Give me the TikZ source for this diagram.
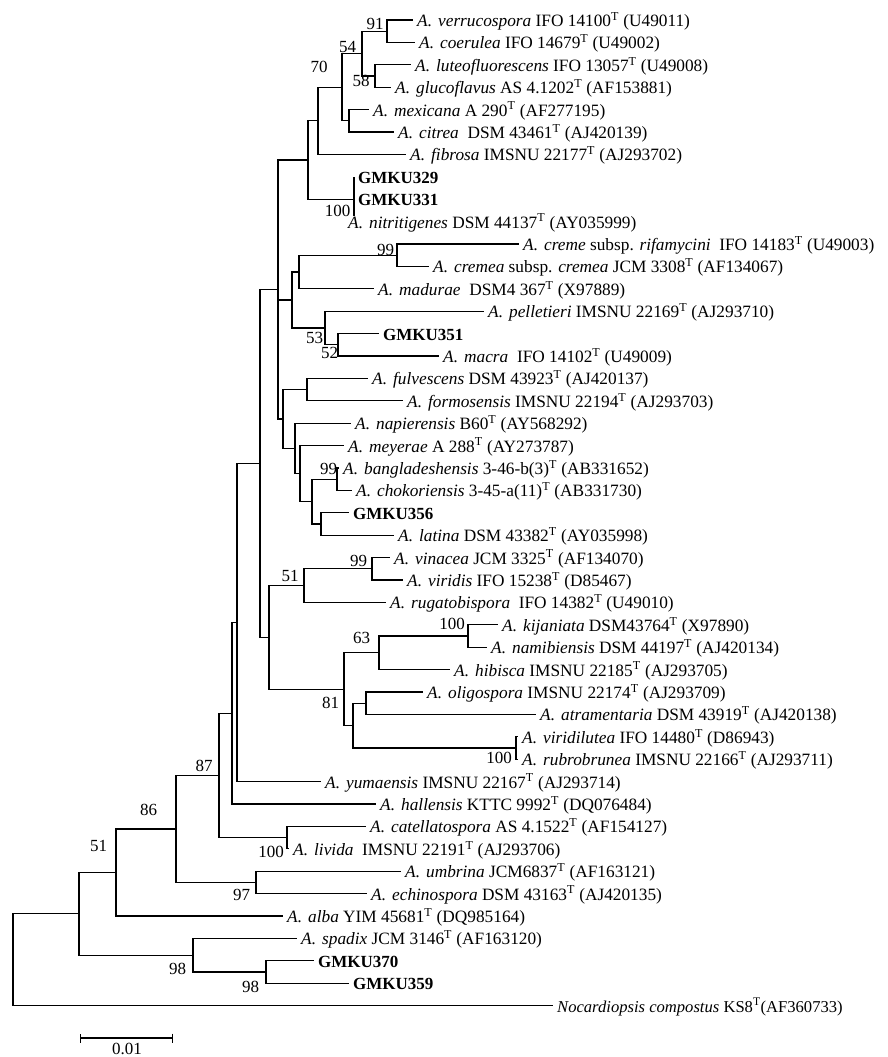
\documentclass[tikz,border=0pt]{standalone}
\usepackage{fontspec}
\setmainfont{Liberation Serif}
\usetikzlibrary{arrows.meta}
\newcommand{\Ty}{\textsuperscript{T}}
\newcommand{\Ab}{\textit{A.}\hspace{0.35em}}

\begin{document}
\begin{tikzpicture}[
        x=1pt, y=-1pt,
        branch/.style={
            line width=1.2pt,
            draw=black
        },
        taxon/.style={
            anchor=west,
            inner xsep=4pt,
            inner ysep=0pt,
            text height=14pt,
            text depth=1pt,
            font=\fontsize{17.3}{19}\selectfont
        },
        isolate/.style={
            taxon,
            font=\fontsize{17}{19}\selectfont\bfseries
        },
        boot/.style={
            inner sep=0pt,
            font=\fontsize{17}{19}\selectfont
        }
    ]
        \useasboundingbox (0,0) rectangle (888,1057);

        % Taxa
        \node[taxon] (verr) at (413, 20) {\Ab\textit{verrucospora} IFO 14100\Ty{} (U49011)};
        \node[taxon] (coer) at (415, 42.4) {\Ab\textit{coerulea} IFO 14679\Ty{} (U49002)};
        \node[taxon] (lute) at (411, 64.8) {\Ab\textit{luteofluorescens} IFO 13057\Ty{} (U49008)};
        \node[taxon] (gluc) at (391, 87.2) {\Ab\textit{glucoflavus} AS 4.1202\Ty{} (AF153881)};
        \node[taxon] (mexi) at (369, 109.6) {\Ab\textit{mexicana} A 290\Ty{} (AF277195)};
        \node[taxon] (citr) at (394, 132) {\Ab\textit{citrea}\ \ DSM 43461\Ty{} (AJ420139)};
        \node[taxon] (fibr) at (406, 154.4) {\Ab\textit{fibrosa} IMSNU 22177\Ty{} (AJ293702)};
        \node[isolate] (g329) at (354, 176.8) {GMKU329};
        \node[isolate] (g331) at (354, 199.2) {GMKU331};
        \node[taxon] (nitr) at (344, 221.6) {\Ab\textit{nitritigenes} DSM 44137\Ty{} (AY035999)};
        \node[taxon] (crem) at (519, 244) {\Ab\textit{creme} subsp. \textit{rifamycini}\ \ IFO 14183\Ty{} (U49003)};
        \node[taxon] (crma) at (429, 266.4) {\Ab\textit{cremea} subsp. \textit{cremea} JCM 3308\Ty{} (AF134067)};
        \node[taxon] (madu) at (374, 288.8) {\Ab\textit{madurae}\ \ DSM4 367\Ty{} (X97889)};
        \node[taxon] (pell) at (484, 311.2) {\Ab\textit{pelletieri} IMSNU 22169\Ty{} (AJ293710)};
        \node[isolate] (g351) at (379, 333.6) {GMKU351};
        \node[taxon] (macr) at (439, 356) {\Ab\textit{macra}\ \ IFO 14102\Ty{} (U49009)};
        \node[taxon] (fulv) at (368, 378.4) {\Ab\textit{fulvescens} DSM 43923\Ty{} (AJ420137)};
        \node[taxon] (form) at (403, 400.8) {\Ab\textit{formosensis} IMSNU 22194\Ty{} (AJ293703)};
        \node[taxon] (napi) at (351, 423.2) {\Ab\textit{napierensis} B60\Ty{} (AY568292)};
        \node[taxon] (meye) at (344, 445.6) {\Ab\textit{meyerae} A 288\Ty{} (AY273787)};
        \node[taxon] (bang) at (339, 468) {\Ab\textit{bangladeshensis} 3-46-b(3)\Ty{} (AB331652)};
        \node[taxon] (chok) at (352, 490.4) {\Ab\textit{chokoriensis} 3-45-a(11)\Ty{} (AB331730)};
        \node[isolate] (g356) at (349, 512.8) {GMKU356};
        \node[taxon] (lati) at (394, 535.2) {\Ab\textit{latina} DSM 43382\Ty{} (AY035998)};
        \node[taxon] (vina) at (390, 557.6) {\Ab\textit{vinacea} JCM 3325\Ty{} (AF134070)};
        \node[taxon] (viri) at (403, 580) {\Ab\textit{viridis} IFO 15238\Ty{} (D85467)};
        \node[taxon] (ruga) at (386, 602.4) {\Ab\textit{rugatobispora}\ \ IFO 14382\Ty{} (U49010)};
        \node[taxon] (kija) at (498, 624.8) {\Ab\textit{kijaniata} DSM43764\Ty{} (X97890)};
        \node[taxon] (nami) at (487, 647.2) {\Ab\textit{namibiensis} DSM 44197\Ty{} (AJ420134)};
        \node[taxon] (hibi) at (450, 669.6) {\Ab\textit{hibisca} IMSNU 22185\Ty{} (AJ293705)};
        \node[taxon] (olig) at (423, 692) {\Ab\textit{oligospora} IMSNU 22174\Ty{} (AJ293709)};
        \node[taxon] (atra) at (536, 714.4) {\Ab\textit{atramentaria} DSM 43919\Ty{} (AJ420138)};
        \node[taxon] (vrdl) at (518, 736.8) {\Ab\textit{viridilutea} IFO 14480\Ty{} (D86943)};
        \node[taxon] (rubr) at (518, 759.2) {\Ab\textit{rubrobrunea} IMSNU 22166\Ty{} (AJ293711)};
        \node[taxon] (yuma) at (321, 781.6) {\Ab\textit{yumaensis} IMSNU 22167\Ty{} (AJ293714)};
        \node[taxon] (hall) at (376, 804) {\Ab\textit{hallensis} KTTC 9992\Ty{} (DQ076484)};
        \node[taxon] (cate) at (366, 826.4) {\Ab\textit{catellatospora} AS 4.1522\Ty{} (AF154127)};
        \node[taxon] (livi) at (289, 848.8) {\Ab\textit{livida}\ \ IMSNU 22191\Ty{} (AJ293706)};
        \node[taxon] (umbr) at (401, 871.2) {\Ab\textit{umbrina} JCM6837\Ty{} (AF163121)};
        \node[taxon] (echi) at (367, 893.6) {\Ab\textit{echinospora} DSM 43163\Ty{} (AJ420135)};
        \node[taxon] (alba) at (283, 916) {\Ab\textit{alba} YIM 45681\Ty{} (DQ985164)};
        \node[taxon] (spad) at (297, 938.4) {\Ab\textit{spadix} JCM 3146\Ty{} (AF163120)};
        \node[isolate] (g370) at (314, 960.8) {GMKU370};
        \node[isolate] (g359) at (349, 983.2) {GMKU359};
        \node[taxon, font=\fontsize{16.6}{19}\selectfont] (noca) at (553, 1005.6) {\textit{Nocardiopsis compostus} KS8\Ty(AF360733)};

        % Internal nodes
        \coordinate (n91) at (387, 31.2);
        \coordinate (n58) at (375, 76);
        \coordinate (n54) at (362, 53.6);
        \coordinate (n349) at (349, 120.8);
        \coordinate (n342) at (342, 87.2);
        \coordinate (n318) at (318, 120.8);
        \coordinate (n354) at (354, 199.2);
        \coordinate (n354b) at (354, 216);
        \coordinate (n308) at (308, 160);
        \coordinate (n397) at (397, 255.2);
        \coordinate (n299) at (299, 272);
        \coordinate (n338) at (338, 344.8);
        \coordinate (n325) at (325, 328);
        \coordinate (n292) at (292, 300);
        \coordinate (n307) at (307, 389.6);
        \coordinate (n337) at (337, 479.2);
        \coordinate (n321) at (321, 524);
        \coordinate (n312) at (312, 501.6);
        \coordinate (n300) at (300, 473.6);
        \coordinate (n295) at (295, 448.4);
        \coordinate (n283) at (283, 419);
        \coordinate (n278) at (278, 289.5);
        \coordinate (n372) at (372, 568.8);
        \coordinate (n304) at (304, 585.6);
        \coordinate (n468) at (468, 636);
        \coordinate (n379) at (379, 652.8);
        \coordinate (n366) at (366, 703.2);
        \coordinate (n516) at (516, 748);
        \coordinate (n353) at (353, 725.6);
        \coordinate (n344) at (344, 689.2);
        \coordinate (n269) at (269, 637.4);
        \coordinate (n260) at (260, 463.5);
        \coordinate (n237) at (237, 622.5);
        \coordinate (n232) at (232, 713.3);
        \coordinate (n287) at (287, 837.6);
        \coordinate (n219) at (219, 775.4);
        \coordinate (n256) at (256, 882.4);
        \coordinate (n176) at (176, 828.9);
        \coordinate (n116) at (116, 872.5);
        \coordinate (n266) at (266, 972);
        \coordinate (n193) at (193, 955.2);
        \coordinate (n79) at (79, 913.8);
        \coordinate (root) at (13, 959.7);

        % Branches
        \draw[branch] (n91) |- (verr.west);
        \draw[branch] (n91) |- (coer.west);
        \draw[branch] (n58) |- (lute.west);
        \draw[branch] (n58) |- (gluc.west);
        \draw[branch] (n54) |- (n91);
        \draw[branch] (n54) |- (n58);
        \draw[branch] (n349) |- (mexi.west);
        \draw[branch] (n349) |- (citr.west);
        \draw[branch] (n342) |- (n54);
        \draw[branch] (n342) |- (n349);
        \draw[branch] (n318) |- (n342);
        \draw[branch] (n318) |- (fibr.west);
        \draw[branch] (n354) |- (g329.west);
        \draw[branch] (n354) -- (n354b);
        \draw[branch] (n308) |- (n318);
        \draw[branch] (n308) |- (n354);
        \draw[branch] (n397) |- (crem.west);
        \draw[branch] (n397) |- (crma.west);
        \draw[branch] (n299) |- (n397);
        \draw[branch] (n299) |- (madu.west);
        \draw[branch] (n338) |- (g351.west);
        \draw[branch] (n338) |- (macr.west);
        \draw[branch] (n325) |- (pell.west);
        \draw[branch] (n325) |- (n338);
        \draw[branch] (n292) |- (n299);
        \draw[branch] (n292) |- (n325);
        \draw[branch] (n307) |- (fulv.west);
        \draw[branch] (n307) |- (form.west);
        \draw[branch] (n337) |- (bang.west);
        \draw[branch] (n337) |- (chok.west);
        \draw[branch] (n321) |- (g356.west);
        \draw[branch] (n321) |- (lati.west);
        \draw[branch] (n312) |- (n337);
        \draw[branch] (n312) |- (n321);
        \draw[branch] (n300) |- (meye.west);
        \draw[branch] (n300) |- (n312);
        \draw[branch] (n295) |- (napi.west);
        \draw[branch] (n295) |- (n300);
        \draw[branch] (n283) |- (n307);
        \draw[branch] (n283) |- (n295);
        \draw[branch] (n278) |- (n308);
        \draw[branch] (n278) |- (n292);
        \draw[branch] (n278) |- (n283);
        \draw[branch] (n372) |- (vina.west);
        \draw[branch] (n372) |- (viri.west);
        \draw[branch] (n304) |- (n372);
        \draw[branch] (n304) |- (ruga.west);
        \draw[branch] (n468) |- (kija.west);
        \draw[branch] (n468) |- (nami.west);
        \draw[branch] (n379) |- (n468);
        \draw[branch] (n379) |- (hibi.west);
        \draw[branch] (n366) |- (olig.west);
        \draw[branch] (n366) |- (atra.west);
        \draw[branch] (n516) |- (vrdl.west);
        \draw[branch] (n516) |- (rubr.west);
        \draw[branch] (n353) |- (n366);
        \draw[branch] (n353) |- (n516);
        \draw[branch] (n344) |- (n379);
        \draw[branch] (n344) |- (n353);
        \draw[branch] (n269) |- (n304);
        \draw[branch] (n269) |- (n344);
        \draw[branch] (n260) |- (n278);
        \draw[branch] (n260) |- (n269);
        \draw[branch] (n237) |- (n260);
        \draw[branch] (n237) |- (yuma.west);
        \draw[branch] (n232) |- (n237);
        \draw[branch] (n232) |- (hall.west);
        \draw[branch] (n287) |- (cate.west);
        \draw[branch] (n287) |- (livi.west);
        \draw[branch] (n219) |- (n232);
        \draw[branch] (n219) |- (n287);
        \draw[branch] (n256) |- (umbr.west);
        \draw[branch] (n256) |- (echi.west);
        \draw[branch] (n176) |- (n219);
        \draw[branch] (n176) |- (n256);
        \draw[branch] (n116) |- (n176);
        \draw[branch] (n116) |- (alba.west);
        \draw[branch] (n266) |- (g370.west);
        \draw[branch] (n266) |- (g359.west);
        \draw[branch] (n193) |- (spad.west);
        \draw[branch] (n193) |- (n266);
        \draw[branch] (n79) |- (n116);
        \draw[branch] (n79) |- (n193);
        \draw[branch] (root) |- (n79);
        \draw[branch] (root) |- (noca.west);

        % Bootstrap values
        \node[boot] (b91) at (375, 24) {91};
        \node[boot] (b54) at (347.5, 47) {54};
        \node[boot] (b70) at (319, 67) {70};
        \node[boot] (b58) at (361, 81) {58};
        \node[boot] (b100g) at (337.5, 211) {100};
        \node[boot] (b99c) at (385.5, 249.5) {99};
        \node[boot] (b53) at (314.5, 337.5) {53};
        \node[boot] (b52) at (329.5, 352.5) {52};
        \node[boot] (b99b) at (328.5, 468.5) {99};
        \node[boot] (b99v) at (358.5, 561) {99};
        \node[boot] (b51u) at (290, 576) {51};
        \node[boot] (b100k) at (452, 624) {100};
        \node[boot] (b63) at (361.5, 637.5) {63};
        \node[boot] (b81) at (330.5, 703) {81};
        \node[boot] (b100v) at (499, 758) {100};
        \node[boot] (b87) at (204, 766) {87};
        \node[boot] (b86) at (148.5, 810) {86};
        \node[boot] (b100l) at (271, 851.5) {100};
        \node[boot] (b51l) at (98.5, 846) {51};
        \node[boot] (b97) at (241.5, 895) {97};
        \node[boot] (b98a) at (177.5, 969) {98};
        \node[boot] (b98b) at (250.5, 986.5) {98};

        % Scale bar
        \coordinate (sbL) at (80, 1038);
        \coordinate (sbR) at (173, 1038);
        \draw[branch, {Bar[width=9pt]}-{Bar[width=9pt]}] (sbL) -- (sbR);
        \node[boot] (sbT) at (127, 1049) {0.01};
    \end{tikzpicture}
\end{document}
